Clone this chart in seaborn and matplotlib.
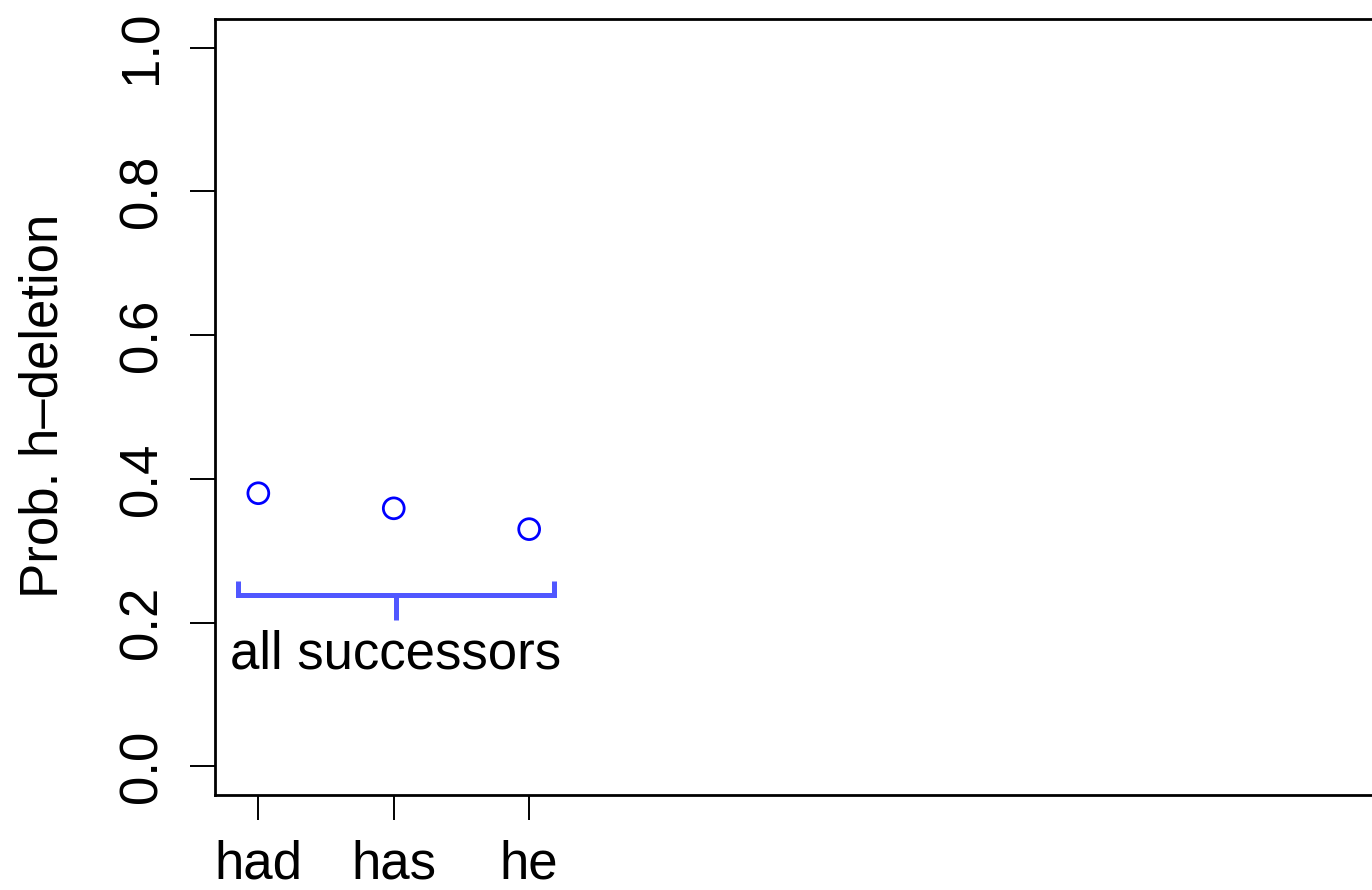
import matplotlib
matplotlib.use("Agg")
import matplotlib.pyplot as plt
import seaborn as sns
import pandas as pd

# Deletion probabilities for each successor word
words = ["had", "has", "he"]
prob = [0.38, 0.359, 0.33]
yticks = [0.0, 0.2, 0.4, 0.6, 0.8, 1.0]
ytick_labels = ["0.0", "0.2", "0.4", "0.6", "0.8", "1.0"]
group_label = "all successors"

sns.set_style("white")
plt.rcParams["font.family"] = ["Liberation Sans", "DejaVu Sans"]
plt.rcParams["text.color"] = "black"
plt.rcParams["axes.labelcolor"] = "black"
plt.rcParams["xtick.color"] = "black"
plt.rcParams["ytick.color"] = "black"

W, H = 1372, 890
fig = plt.figure(figsize=(W / 100, H / 100), dpi=100)
ax = fig.add_axes([215 / W, 95 / H, (1385 - 215) / W, (795 - 19) / H])

pos = list(range(1, len(words) + 1))
df = pd.DataFrame({"pos": pos, "prob": prob, "word": words})

sns.scatterplot(data=df, x="pos", y="prob", ax=ax, marker="o", s=225,
                facecolor="none", edgecolor="#0000FF", linewidth=2.0,
                legend=False)

ax.set_xlim(0.68, 9.32)
ax.set_ylim(-0.04, 1.04)

ax.set_xticks(pos)
ax.set_xticklabels(words, fontsize=38, color="black")
ax.set_yticks(yticks)
ax.set_yticklabels(ytick_labels, fontsize=38, rotation=90, va="center",
                   color="black")
ax.tick_params(axis="both", direction="out", length=18, width=1.4,
               color="black", labelcolor="black", left=True, bottom=True)
ax.tick_params(axis="y", pad=16)
ax.tick_params(axis="x", pad=14)

for side in ["left", "bottom", "top", "right"]:
    ax.spines[side].set_visible(True)
    ax.spines[side].set_color("black")
    ax.spines[side].set_linewidth(2.0)

ax.set_xlabel("")
ax.set_ylabel("Prob. h\u2013deletion", fontsize=38, va="center",
              color="black")
ax.yaxis.set_label_coords(-0.1470, 0.501)

# Bracket grouping all successors
br_color = "#5057FF"
br_left = pos[0] - 0.15
br_right = pos[-1] + 0.18
br_mid = (br_left + br_right) / 2
br_y = 0.238
br_hook = 0.258
br_stem = 0.203
ax.plot([br_left, br_left, br_right, br_right],
        [br_hook, br_y, br_y, br_hook],
        color=br_color, lw=3.6, solid_joinstyle="miter",
        solid_capstyle="butt", clip_on=False)
ax.plot([br_mid, br_mid], [br_y, br_stem], color=br_color, lw=3.6,
        solid_capstyle="butt")
ax.text(br_mid, 0.1365, group_label, ha="center", va="baseline",
        fontsize=38, color="black")

fig.savefig("out.png", dpi=100, facecolor="white")
